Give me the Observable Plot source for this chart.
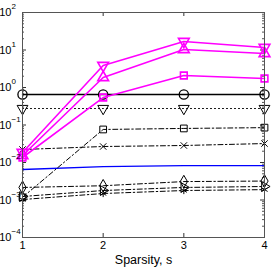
<!DOCTYPE html>
<html><head><meta charset="utf-8">
<script src="https://cdn.jsdelivr.net/npm/d3@7"></script>
<script src="https://cdn.jsdelivr.net/npm/@observablehq/plot@0.6"></script>
<style>body{margin:0;background:#fff}svg{display:block}</style>
</head><body><div id="chart"></div>
<script>
const sparsity = [1, 2, 3, 4];
const magentaTriDown = [0.0185, 3.86, 16.9, 11.7];
const magentaTriUp = [0.0154, 1.85, 10.3, 8.07];
const magentaSquare = [0.0136, 0.54, 2.09, 1.74];
const blackCircle = [0.65, 0.65, 0.65, 0.65];
const blackTriDown = [0.275, 0.275, 0.275, 0.275];
const blackSquare = [0.00118, 0.076, 0.081, 0.085];
const blackTimes = [0.0222, 0.0267, 0.0284, 0.032];
const blueLine = [0.0065, 0.0078, 0.0083, 0.0083];
const blackDiamond = [0.00216, 0.0024, 0.0031, 0.0032];
const blackTriRight = [0.00124, 0.00179, 0.00216, 0.00229];
const blackStar = [0.00103, 0.00149, 0.00179, 0.00189];
const yExponents = [-4, -3, -2, -1, 0, 1, 2];
const xLabel = "Sparsity, s";

const seriesValues = {magentaTriDown, magentaTriUp, magentaSquare, blackCircle, blackTriDown,
  blackSquare, blackTimes, blueLine, blackDiamond, blackTriRight, blackStar};
const styles = {
  blueLine: {color: "#0000ff", dash: null, symbol: null, w: 1.3},
  blackCircle: {color: "#000", dash: null, symbol: "circle", rot: 0, w: 1.3, r: 4.6},
  blackTriDown: {color: "#000", dash: "1,3", symbol: "triangle", rot: 180, w: 1, r: 4},
  blackSquare: {color: "#000", dash: "5,2.5,1.5,2.5", symbol: "square", rot: 0, w: 1, r: 3.8},
  blackTimes: {color: "#000", dash: "5,2.5,1.5,2.5", symbol: "times", rot: 0, w: 1, r: 3},
  blackDiamond: {color: "#000", dash: "5,2.5,1.5,2.5", symbol: "diamond", rot: 0, w: 1, r: 3.8},
  blackTriRight: {color: "#000", dash: "5,2.5,1.5,2.5", symbol: "triangle", rot: 90, w: 1, r: 3.6},
  blackStar: {color: "#000", dash: "5,2.5,1.5,2.5", symbol: "asterisk", rot: 0, w: 1, r: 3.4},
  magentaSquare: {color: "#ff00ff", dash: null, symbol: "square", rot: 0, w: 1.6, r: 3.8},
  magentaTriUp: {color: "#ff00ff", dash: null, symbol: "triangle", rot: 0, w: 1.6, r: 4},
  magentaTriDown: {color: "#ff00ff", dash: null, symbol: "triangle", rot: 180, w: 1.6, r: 4}
};

const W = 272, H = 273, mL = 22, mR = 8, mT = 12, mB = 36;
const fw = W - mL - mR, fh = H - mT - mB;
const major = yExponents.map(e => 10 ** e);
const minor = [];
for (const e of yExponents.slice(0, -1)) for (let k = 2; k <= 9; k++) minor.push(k * 10 ** e);

const marks = [];
for (const name of Object.keys(styles)) {
  const s = styles[name];
  const data = sparsity.map((x, i) => ({x, y: seriesValues[name][i]}));
  marks.push(Plot.line(data, {x: "x", y: "y", stroke: s.color, strokeWidth: s.w, strokeDasharray: s.dash}));
  if (s.symbol) marks.push(Plot.dot(data, {x: "x", y: "y", symbol: s.symbol, r: s.r,
    rotate: s.rot, stroke: s.color, fill: "none", strokeWidth: s.w}));
}

const chart = Plot.plot({
  width: W, height: H, marginLeft: mL, marginRight: mR, marginTop: mT, marginBottom: mB,
  style: {fontFamily: "Liberation Sans, Arial, sans-serif", background: "#fff"},
  x: {domain: [1, 4], axis: null},
  y: {type: "log", domain: [1e-4, 1e2], axis: null},
  marks: [
    Plot.ruleY(major, {insetRight: fw - 4, stroke: "#333"}),
    Plot.ruleY(major, {insetLeft: fw - 4, stroke: "#333"}),
    Plot.ruleY(minor, {insetRight: fw - 2, stroke: "#555"}),
    Plot.ruleY(minor, {insetLeft: fw - 2, stroke: "#555"}),
    Plot.ruleX(sparsity, {insetTop: fh - 4, stroke: "#333"}),
    Plot.ruleX(sparsity, {insetBottom: fh - 4, stroke: "#333"}),
    ...marks,
    Plot.frame({stroke: "#555"}),
    Plot.text(major, {y: d => d, frameAnchor: "left", text: () => "10", dx: -11, textAnchor: "end", fontSize: 11, fill: "#000"}),
    Plot.text(major, {y: d => d, frameAnchor: "left", text: d => String(Math.round(Math.log10(d))).replace("-", "\u2212"), dx: -11, dy: -6, textAnchor: "start", fontSize: 8, fill: "#000"}),
    Plot.text(sparsity, {x: d => d, frameAnchor: "bottom", text: d => String(d), dy: 11, fontSize: 11, fill: "#000"}),
    Plot.text([xLabel], {frameAnchor: "bottom", text: d => d, dy: 26, fontSize: 12.5, fill: "#000"})
  ]
});
document.getElementById("chart").append(chart);
</script></body></html>
